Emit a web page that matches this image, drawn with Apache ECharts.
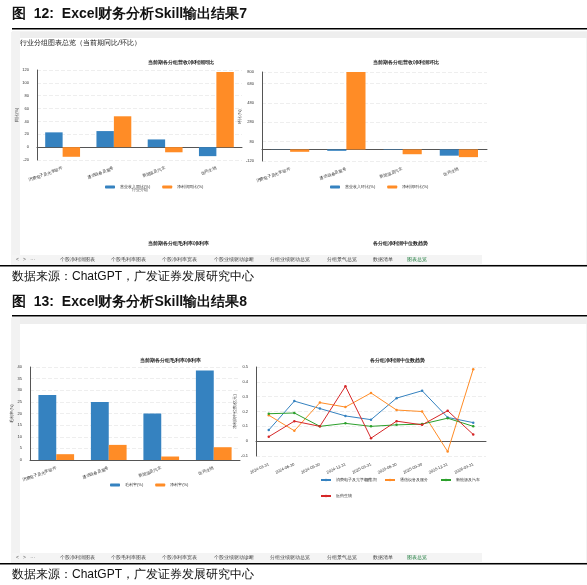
<!DOCTYPE html><html><head><meta charset="utf-8">
<script src="https://cdn.jsdelivr.net/npm/echarts@6/dist/echarts.min.js"></script>
<style>body{margin:0;background:#fff}#c{width:587px;height:585px}</style></head><body><div id="c"></div>
<script>
const groups=["消费电子及光学组件","通信设备及服务","新能源及汽车","医药生物"];
const revYoY=[23,25,12,-14];
const npYoY=[-15,48,-8,117];
const revQoQ=[-2,-15,-5,-65];
const npQoQ=[-25,800,-50,-80];
const grossMargin=[28,25,20,38.5];
const netMargin=[2.5,6.5,1.5,5.5];
const dates=["2024-03-31","2024-06-30","2024-09-30","2024-12-31","2025-03-31","2025-06-30","2025-09-30","2025-12-31","2026-03-31"];
const lineNames=["消费电子及光学组件","通信设备及服务","新能源及汽车","医药生物"];
const lineVals=[
 [0.075,0.27,0.22,0.17,0.145,0.29,0.34,0.16,0.125],
 [0.175,0.07,0.26,0.23,0.325,0.21,0.2,-0.07,0.485],
 [0.185,0.19,0.10,0.12,0.10,0.11,0.115,0.155,0.10],
 [0.03,0.135,0.10,0.37,0.02,0.135,0.11,0.205,0.045]];
const tabs=["个股净利润图表","个股毛利率图表","个股净利率宽表","个股业绩驱动诊断","分组业绩驱动总览","分组景气总览","数据清单","图表总览"];
const B='#3582c0',O='#ff8c26',G='#2ca02c',R='#d62728';
const ch=echarts.init(document.getElementById('c'));
const ax={axisLabel:{fontSize:4,color:'#333'},axisLine:{show:true,lineStyle:{color:'#555'}},axisTick:{show:false},splitLine:{lineStyle:{color:'#eee',type:'dashed'}},nameTextStyle:{fontSize:4,color:'#333'}};
const cat={type:'category',data:groups,axisLabel:{fontSize:4,rotate:20,color:'#333',interval:0},axisTick:{show:false},axisLine:{lineStyle:{color:'#555'}}};
const tt=(t,x,y)=>({type:'text',left:x,top:y,style:{text:t,fontSize:5,fontWeight:'bold',fill:'#222',textAlign:'center'}});
const g=[];
function sheet(y0,y1){
 g.push({type:'rect',shape:{x:12,y:y0,width:575,height:y1-y0},style:{fill:'#fff',stroke:'#ccc',lineWidth:0.5}});
 g.push({type:'rect',shape:{x:12,y:y0,width:575,height:6},style:{fill:'#eee'}});
 g.push({type:'rect',shape:{x:12,y:y0,width:8,height:y1-y0},style:{fill:'#f2f2f2'}});
 const ty=y1-10;
 g.push({type:'rect',shape:{x:12,y:ty,width:470,height:10},style:{fill:'#f4f4f4'}});
 g.push({type:'text',x:16,y:ty+2,style:{text:'<   >   ···',fontSize:5,fill:'#555'}});
 let x=60;tabs.forEach((t,i)=>{g.push({type:'text',x:x,y:ty+2.5,style:{text:t,fontSize:5,fill:i==7?'#1a7a3a':'#444'}});x+=t.length*5.6+12;});
}
sheet(32,265);sheet(318,563);
g.push({type:'text',x:12,y:7,style:{text:'图  12:  Excel财务分析Skill输出结果7',fontSize:14,fontWeight:'bold',fill:'#111'}});
g.push({type:'rect',shape:{x:12,y:28,width:575,height:1.5},style:{fill:'#000'}});
g.push({type:'rect',shape:{x:0,y:265,width:587,height:1.5},style:{fill:'#000'}});
g.push({type:'text',x:12,y:271,style:{text:'数据来源：ChatGPT，广发证券发展研究中心',fontSize:12,fill:'#111'}});
g.push({type:'text',x:12,y:295,style:{text:'图  13:  Excel财务分析Skill输出结果8',fontSize:14,fontWeight:'bold',fill:'#111'}});
g.push({type:'rect',shape:{x:12,y:315,width:575,height:1.5},style:{fill:'#000'}});
g.push({type:'rect',shape:{x:0,y:563,width:587,height:1.5},style:{fill:'#000'}});
g.push({type:'text',x:12,y:569,style:{text:'数据来源：ChatGPT，广发证券发展研究中心',fontSize:12,fill:'#111'}});
g.push({type:'text',x:20,y:40,style:{text:'行业分组图表总览（当前期同比/环比）',fontSize:7,fill:'#222'}});
g.push(tt('当前期各分组营收/净利润同比',148,60),tt('当前期各分组营收/净利润环比',373,60),tt('当前期各分组毛利率/净利率',148,241),tt('各分组净利润中位数趋势',373,241));
g.push(tt('当前期各分组毛利率/净利率',140,358),tt('各分组净利润中位数趋势',370,358));
const lg=(names,left,top)=>({data:names,left:left,top:top,itemWidth:10,itemHeight:3,itemGap:12,textStyle:{fontSize:4,color:'#333'}});
const opt={animation:false,graphic:g,
 grid:[{left:37,top:70,width:205,height:90},{left:262,top:72,width:225,height:89},{left:30,top:367,width:210,height:93},{left:256,top:367,width:230,height:89}],
 legend:[lg(['营业收入同比(%)','净利润同比(%)'],100,180),lg(['营业收入环比(%)','净利润环比(%)'],325,180),lg(['毛利率(%)','净利率(%)'],105,478),
  Object.assign(lg(lineNames,315,473),{width:190})],
 xAxis:[Object.assign({gridIndex:0,name:'行业分组',nameLocation:'middle',nameGap:28,nameTextStyle:{fontSize:4}},cat),Object.assign({gridIndex:1},cat),Object.assign({gridIndex:2},cat),
  {gridIndex:3,type:'category',data:dates,boundaryGap:true,axisLabel:{fontSize:4,rotate:25,color:'#333'},axisTick:{show:false},axisLine:{lineStyle:{color:'#555'}},name:'报告期',nameLocation:'middle',nameGap:22,nameTextStyle:{fontSize:4}}],
 yAxis:[Object.assign({gridIndex:0,min:-20,max:120,interval:20,name:'同比(%)',nameLocation:'middle',nameGap:16},ax),
  Object.assign({gridIndex:1,min:-120,max:800,interval:200,name:'环比(%)',nameLocation:'middle',nameGap:20,axisLabel:{fontSize:4,color:'#333',formatter:v=>v<0?'':v}},ax),
  Object.assign({gridIndex:2,min:0,max:40,interval:5,name:'毛利率(%)',nameLocation:'middle',nameGap:14},ax),
  Object.assign({gridIndex:3,min:-0.1,max:0.5,interval:0.1,name:'净利润中位数(亿元)',nameLocation:'middle',nameGap:16,axisLabel:{fontSize:4,color:'#333',formatter:v=>v<0?'':v.toFixed(1)}},ax)],
 series:[
  {name:'营业收入同比(%)',type:'bar',xAxisIndex:0,yAxisIndex:0,data:revYoY,itemStyle:{color:B},barGap:0,barWidth:'34%'},
  {name:'净利润同比(%)',type:'bar',xAxisIndex:0,yAxisIndex:0,data:npYoY,itemStyle:{color:O},barWidth:'34%'},
  {name:'营业收入环比(%)',type:'bar',xAxisIndex:1,yAxisIndex:1,data:revQoQ,itemStyle:{color:B},barGap:0,barWidth:'34%'},
  {name:'净利润环比(%)',type:'bar',xAxisIndex:1,yAxisIndex:1,data:npQoQ,itemStyle:{color:O},barWidth:'34%'},
  {name:'毛利率(%)',type:'bar',xAxisIndex:2,yAxisIndex:2,data:grossMargin,itemStyle:{color:B},barGap:0,barWidth:'34%'},
  {name:'净利率(%)',type:'bar',xAxisIndex:2,yAxisIndex:2,data:netMargin,itemStyle:{color:O},barWidth:'34%'},
 ].concat(lineNames.map((n,i)=>({name:n,type:'line',xAxisIndex:3,yAxisIndex:3,data:lineVals[i],symbol:'circle',symbolSize:2.5,lineStyle:{width:1},itemStyle:{color:[B,O,G,R][i]}})))
};
ch.setOption(opt);
</script></body></html>
